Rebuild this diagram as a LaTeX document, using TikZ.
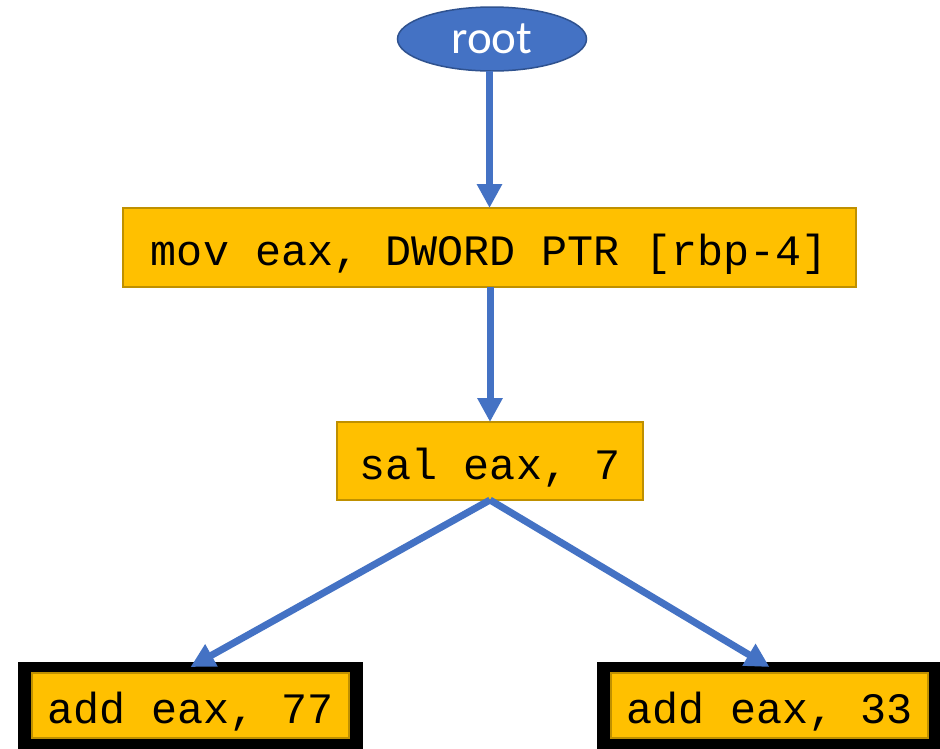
\documentclass[tikz,border=0pt]{standalone}
\usepackage{fontspec}
\setmainfont{Carlito}
\newfontfamily\codefont{Liberation Mono}
\usetikzlibrary{arrows.meta,shapes.geometric}

\definecolor{nodeblue}{HTML}{4472C4}
\definecolor{nodeblueedge}{HTML}{2F528F}
\definecolor{instrfill}{HTML}{FFC000}
\definecolor{instredge}{HTML}{BF9000}

\tikzset{
  rootnode/.style={ellipse, fill=nodeblue, draw=nodeblueedge, line width=1.5pt,
    minimum width=189pt, minimum height=64pt, inner sep=0pt, outer sep=0pt,
    text=white, font=\fontsize{47}{50}\selectfont},
  instr/.style={rectangle, fill=instrfill, draw=instredge, line width=2pt,
    inner sep=0pt, outer sep=0pt, text height=36pt, text depth=0pt,
    font=\codefont\fontsize{43.4}{46}\selectfont},
  leafframe/.style={rectangle, fill=black, inner sep=0pt, outer sep=0pt,
    minimum width=345pt, minimum height=89pt},
  flow/.style={draw=nodeblue, line width=7pt,
    -{Triangle[length=24pt,width=24pt]}},
}

\begin{document}
\begin{tikzpicture}[x=1pt,y=-1pt]
  \useasboundingbox (0,0) rectangle (940,748);
  \clip (0,0) rectangle (940,748);
  \fill[white] (0,0) rectangle (940,748);

  % tree nodes
  \node[rootnode] (root) at (492,39) {root};
  \node[instr, minimum width=733pt, minimum height=79pt] (mov) at (489.5,247.5)
    {mov eax, DWORD PTR [rbp-4]};
  \node[instr, minimum width=306pt, minimum height=78pt] (sal) at (490,461)
    {sal eax, 7};

  % leaves: heavy black frame around each instruction
  \node[leafframe] (frame77) at (190.5,706.5) {};
  \node[instr, minimum width=317pt, minimum height=65pt, line width=1.5pt] (in77)
    at (190.5,705.5) {add eax, 77};
  \node[leafframe] (frame33) at (769.5,706.5) {};
  \node[instr, minimum width=317pt, minimum height=65pt, line width=1.5pt] (in33)
    at (769.5,705.5) {add eax, 33};

  % edges
  \draw[flow] (mov.north |- root.south) -- (mov.north);
  \draw[flow] (sal.north |- mov.south) -- (sal.north);
  \draw[flow] (sal.south) -- ([yshift=6pt]in77.north);
  \draw[flow] (sal.south) -- ([yshift=6pt]in33.north);
\end{tikzpicture}
\end{document}
